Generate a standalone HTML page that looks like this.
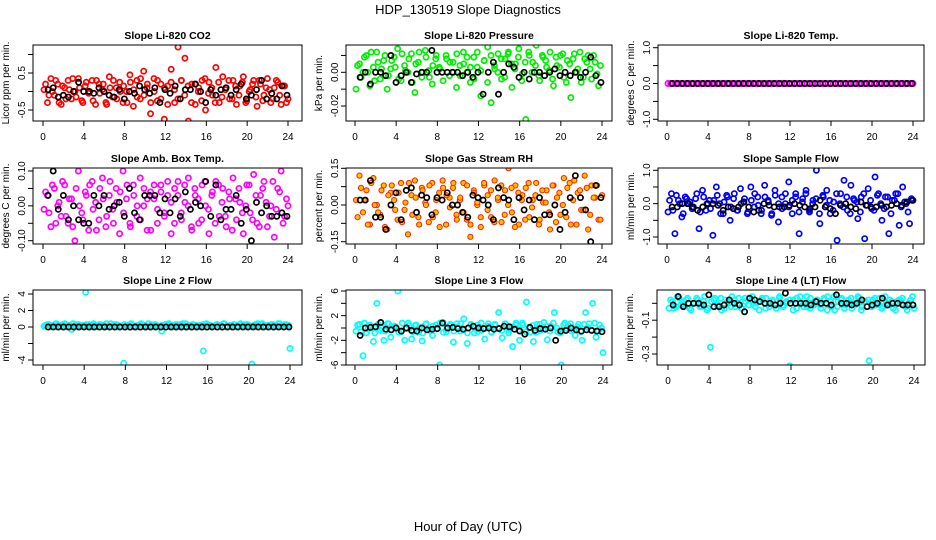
<!DOCTYPE html>
<html><head><meta charset="utf-8">
<style>
body{margin:0;background:#fff;}
svg{display:block;font-family:"Liberation Sans",Arial,sans-serif;}
</style></head>
<body>
<svg id="chart" width="936" height="540" viewBox="0 0 936 540" xmlns="http://www.w3.org/2000/svg">
<rect width="936" height="540" fill="#fff"/>
<text x="468" y="14" font-size="13" text-anchor="middle">HDP_130519  Slope Diagnostics</text>
<text x="468" y="531" font-size="13" text-anchor="middle">Hour of Day (UTC)</text>
</svg>
<script>
const xTicks=[0,4,8,12,16,20,24];
const xTickLabels=['0','4','8','12','16','20','24'];

const co2Ticks=[-0.5,0,0.5,1];
const co2TickLabels=['-0.5','','0.5',''];
const co2Color=[0.05,-0.3,0.35,-0.1,0.2,-0.35,0.1,0.3,-0.2,0.0,0.35,-0.25,0.15,-0.05,0.3,-0.35,0.2,0.05,-0.3,0.4,-0.15,0.1,0.25,-0.3,0.0,0.45,-0.4,0.3,-0.2,0.55,0.1,-0.6,0.35,-0.25,0.2,-0.75,0.15,0.6,-0.3,1.2,0.3,0.9,-0.8,0.2,-0.35,0.1,0.3,-0.5,0.25,-0.1,0.65,-0.3,0.4,0.1,-0.2,0.3,-0.35,0.15,0.4,-0.25,0.05,0.3,-0.4,0.2,-0.1,0.35,-0.3,0.1,0.25,-0.35,0.15,-0.2];
const co2Color2=[0.2,-0.1,0.0,0.3,-0.3,0.15,-0.2,0.05,0.35,-0.15,0.1,-0.3,0.25,0.0,-0.25,0.3,-0.05,0.2,-0.35,0.1,0.3,-0.2,0.0,0.15,-0.3,0.25,0.05,-0.15,0.35,-0.1,0.2,-0.3,0.0,0.3,-0.2,0.1,-0.35,0.25,0.05,-0.2,0.3,-0.1,0.15,-0.3,0.2,0.0,-0.25,0.35,-0.05,0.1,-0.3,0.25,-0.15,0.05,0.3,-0.2,0.15,-0.1,0.25,-0.3,0.0,0.2,-0.15,0.3,-0.25,0.1,0.05,-0.2,0.3,-0.1,0.15,-0.3];
const co2Black=[0.05,0.1,-0.15,-0.1,-0.15,0.0,0.25,0.0,0.0,-0.05,0.1,0.0,-0.1,-0.15,0.05,-0.2,0.0,-0.05,0.15,0.05,-0.05,0.1,-0.3,0.05,-0.05,0.15,-0.2,0.05,0.05,0.2,0.0,-0.3,0.05,-0.1,0.05,0.1,-0.1,0.05,0.2,-0.2,-0.1,0.05,0.3,-0.2,-0.05,-0.2,0.15,-0.1];

const presTicks=[0.01,0,-0.01,-0.02];
const presTickLabels=['','0.00','','-0.02'];
const presColor=[-0.01,0.005,0.0,0.01,-0.008,0.003,0.012,-0.004,0.007,-0.01,0.002,0.009,0.014,-0.005,0.004,0.0,0.011,-0.012,0.006,-0.003,0.013,0.001,-0.007,0.008,0.003,-0.033,0.01,-0.002,0.006,-0.009,0.004,0.012,0.0,-0.006,0.009,0.003,-0.014,0.007,0.015,-0.018,0.002,0.011,-0.004,0.008,0.012,-0.009,0.005,0.014,-0.001,-0.028,0.01,0.006,0.016,-0.005,0.009,0.003,0.012,-0.008,0.004,0.01,-0.003,0.007,-0.015,0.011,0.002,-0.006,0.008,0.01,-0.004,0.006,-0.008,-0.031];
const presColor2=[0.004,-0.003,0.009,0.0,0.012,-0.005,0.006,0.002,0.01,-0.002,0.007,0.003,-0.004,0.011,0.001,0.008,-0.006,0.005,0.012,0.0,0.009,-0.003,0.004,0.01,0.002,-0.005,0.008,0.006,0.0,0.011,-0.002,0.005,0.009,0.003,-0.004,0.012,0.001,0.007,-0.006,0.01,0.004,0.0,0.008,-0.003,0.011,0.005,0.002,0.009,-0.005,0.006,0.012,0.0,0.004,-0.002,0.01,0.007,0.001,-0.004,0.009,0.003,0.011,-0.006,0.005,0.008,0.0,0.012,-0.003,0.006,0.002,0.01,-0.001,0.004];
const presBlack=[-0.003,0.0,-0.007,0.0,0.0,-0.002,0.01,-0.006,-0.002,0.0,-0.006,-0.001,0.0,0.0,0.013,0.0,0.0,0.0,0.0,0.0,-0.002,0.0,-0.003,0.0,-0.013,0.0,0.006,-0.013,0.0,0.005,0.003,-0.003,0.0,-0.004,0.0,0.0,-0.002,0.0,0.002,-0.002,0.0,-0.002,0.0,-0.003,0.0,0.009,-0.002,-0.006];

const tempTicks=[1,0.5,0,-0.5,-1];
const tempTickLabels=['1.0','','0.0','','-1.0'];
const tempColor=[0,0,0,0,0,0,0,0,0,0,0,0,0,0,0,0,0,0,0,0,0,0,0,0,0,0,0,0,0,0,0,0,0,0,0,0,0,0,0,0,0,0,0,0,0,0,0,0,0,0,0,0,0,0,0,0,0,0,0,0,0,0,0,0,0,0,0,0,0,0,0,0,0,0,0,0,0,0,0,0,0,0,0,0,0,0,0,0,0,0,0,0,0,0,0,0];
const tempColor2=[];
const tempBlack=[0,0,0,0,0,0,0,0,0,0,0,0,0,0,0,0,0,0,0,0,0,0,0,0,0,0,0,0,0,0,0,0,0,0,0,0,0,0,0,0,0,0,0,0,0,0,0,0];

const ambTicks=[0.1,0.05,0,-0.05,-0.1];
const ambTickLabels=['0.10','','0.00','','-0.10'];
const ambColor=[-0.01,0.03,-0.06,0.05,0.0,-0.03,0.06,-0.05,0.02,-0.1,0.1,-0.02,0.04,-0.07,0.07,0.01,-0.04,0.08,-0.06,0.03,-0.01,0.05,-0.08,0.1,0.02,-0.05,0.06,-0.03,0.08,0.0,-0.07,0.04,0.02,-0.05,0.06,-0.02,0.03,-0.08,0.05,0.07,-0.04,0.01,0.08,-0.07,0.03,-0.05,0.06,0.0,-0.08,0.04,0.07,-0.03,0.05,-0.06,0.02,0.08,-0.04,0.01,-0.08,0.06,-0.02,0.09,-0.05,0.03,0.07,-0.06,0.0,-0.09,0.05,0.1,-0.03,0.0];
const ambColor2=[0.04,-0.02,0.06,-0.05,0.01,0.07,-0.03,0.02,-0.06,0.05,0.0,-0.04,0.03,0.06,-0.01,-0.07,0.05,0.02,-0.03,0.07,-0.05,0.01,0.04,-0.02,0.06,-0.06,0.03,0.0,-0.04,0.05,0.02,-0.07,0.06,-0.01,0.04,-0.03,0.07,0.01,-0.05,0.03,-0.02,0.06,0.0,-0.06,0.05,0.02,-0.04,0.07,-0.01,0.03,-0.05,0.06,0.01,-0.03,0.04,-0.07,0.02,0.05,-0.02,0.0,0.06,-0.04,0.03,-0.06,0.05,0.01,-0.03,0.07,-0.01,0.04,-0.05,0.02];
const ambBlack=[0.03,0.1,-0.01,0.03,-0.04,0.0,-0.04,-0.05,-0.05,0.03,0.0,0.03,-0.01,0.0,0.01,-0.03,0.05,-0.02,-0.04,0.03,0.03,0.03,-0.02,0.02,-0.02,0.02,-0.03,0.04,-0.01,0.01,0.0,0.07,-0.03,0.06,-0.04,-0.01,-0.01,0.03,-0.05,-0.01,-0.1,0.01,-0.02,0.0,-0.03,-0.03,-0.02,-0.03];

const rhTicks=[0.15,0.075,0,-0.075,-0.15];
const rhTickLabels=['0.15','','0.00','','-0.15'];
const rhColor=[0.02,0.12,-0.03,0.06,-0.08,0.11,0.0,-0.04,0.08,-0.1,0.05,0.02,-0.06,0.09,-0.02,-0.12,0.04,0.1,-0.05,0.07,0.01,-0.07,0.09,-0.03,0.05,0.1,-0.08,0.03,0.07,-0.04,0.02,0.09,-0.06,-0.13,0.06,0.0,-0.09,0.08,0.04,-0.05,0.1,0.02,-0.07,0.06,0.15,-0.03,0.08,-0.08,0.04,0.07,-0.05,0.02,0.09,-0.06,0.01,0.06,-0.1,0.08,0.03,-0.04,0.11,0.07,-0.08,0.1,0.05,-0.02,0.12,-0.1,0.08,0.03,-0.06,0.04];
const rhColor2=[-0.05,0.07,0.02,-0.08,0.09,0.0,-0.03,0.06,-0.09,0.04,0.08,-0.02,0.05,-0.07,0.01,0.09,-0.04,0.03,-0.08,0.06,0.0,0.08,-0.05,0.02,-0.09,0.07,0.04,-0.01,0.09,-0.06,0.03,-0.03,0.08,-0.08,0.05,0.01,-0.05,0.09,-0.02,0.06,-0.07,0.03,0.08,-0.04,0.0,0.07,-0.09,0.05,0.02,-0.06,0.09,-0.01,0.04,-0.08,0.06,0.01,-0.03,0.08,-0.07,0.05,0.0,-0.05,0.09,0.02,-0.08,0.06,-0.02,0.07,-0.04,0.03,0.08,-0.06];
const rhBlack=[0.02,0.02,0.1,-0.05,-0.05,-0.1,0.0,0.05,-0.06,0.06,0.07,-0.03,0.04,0.03,-0.04,0.03,0.02,0.05,0.0,0.0,-0.03,-0.05,0.04,0.03,0.02,0.0,-0.06,0.07,0.03,0.02,-0.06,0.03,-0.02,0.02,-0.06,0.03,-0.04,-0.04,0.0,-0.1,-0.03,0.03,0.12,0.03,-0.02,-0.15,0.08,0.03];

const flowTicks=[1,0.5,0,-0.5,-1];
const flowTickLabels=['1.0','','0.0','','-1.0'];
const flowColor=[-0.25,0.3,-0.9,0.1,-0.4,0.2,0.0,-0.15,0.15,-0.75,0.4,-0.2,0.1,-0.95,0.5,0.0,-0.3,0.25,-0.5,0.15,-0.2,0.45,0.05,-0.3,0.5,-0.1,0.2,-0.3,0.55,0.1,-0.35,0.4,-0.55,0.2,0.0,0.65,-0.3,0.3,-0.9,0.15,0.4,-0.25,0.1,1.0,-0.6,0.2,0.4,-0.3,0.05,-1.1,0.3,0.7,-0.2,0.55,0.1,-0.45,0.2,-1.05,0.45,-0.15,0.8,0.3,-0.5,0.2,-0.9,0.1,0.3,-0.65,0.5,0.0,-0.6,0.1];
const flowColor2=[0.1,-0.2,0.25,0.0,-0.3,0.15,0.05,-0.1,0.3,-0.25,0.2,0.0,-0.15,0.1,0.25,-0.3,0.05,0.2,-0.1,0.3,-0.2,0.0,0.15,-0.25,0.1,0.3,-0.05,-0.2,0.2,0.05,-0.3,0.25,0.0,-0.15,0.3,-0.1,0.1,0.2,-0.25,0.05,0.3,-0.2,0.0,0.15,-0.3,0.25,-0.05,0.1,-0.2,0.3,0.0,-0.1,0.2,-0.3,0.15,0.05,-0.25,0.3,-0.05,0.1,-0.2,0.25,0.0,-0.15,0.2,-0.3,0.1,0.3,-0.1,0.05,-0.25,0.15];
const flowBlack=[-0.1,-0.1,0.0,0.0,-0.1,-0.2,-0.1,0.0,0.0,-0.05,-0.2,-0.1,-0.15,-0.1,0.05,-0.1,-0.25,-0.2,0.0,-0.05,-0.1,-0.1,-0.1,-0.05,0.0,-0.05,-0.1,-0.15,-0.1,0.1,-0.1,-0.15,-0.3,-0.05,0.0,-0.1,-0.15,0.05,-0.05,-0.1,-0.1,-0.05,-0.1,-0.05,0.0,-0.05,0.05,0.1];

const l2Ticks=[4,2,0,-2,-4];
const l2TickLabels=['4','2','0','','-4'];
const l2Color=[0.1,0.3,0.2,0.1,0.3,0.2,0.4,0.1,-0.3,0.2,0.3,0.1,4.2,0.3,0.2,0.1,0.3,0.2,0.4,0.1,0.2,0.3,0.1,-4.4,0.2,0.3,0.1,0.2,0.4,0.2,0.1,0.3,0.2,0.1,-0.5,0.3,0.2,0.1,0.3,0.2,0.4,0.1,0.2,0.3,0.1,0.2,-2.9,0.3,0.2,0.1,0.3,0.2,0.4,0.1,0.2,0.3,0.1,0.2,0.3,0.2,-4.5,0.3,0.2,0.4,0.1,0.2,0.3,0.1,0.4,0.2,0.3,-2.6];
const l2Color2=[0.2,0.3,0.1,0.4,0.2,0.3,0.1,0.2,0.4,0.3,0.1,0.2,0.3,0.2,0.4,0.1,0.3,0.2,0.1,0.4,0.3,0.2,0.1,0.3,0.2,0.4,0.1,0.2,0.3,0.1,0.4,0.2,0.3,0.1,0.2,0.3,0.4,0.2,0.1,0.3,0.2,0.4,0.1,0.3,0.2,0.1,0.3,0.4,0.2,0.1,0.3,0.2,0.4,0.1,0.2,0.3,0.1,0.4,0.2,0.3,0.1,0.2,0.4,0.3,0.1,0.2,0.3,0.2,0.4,0.1,0.3,0.2];
const l2Black=[0,0,0,0,0,0,0,0,0,0,0,0,0,0,0,0,0,0,0,0,0,0,0,0,0,0,0,0,0,0,0,0,0,0,0,0,0,0,0,0,0,0,0,0,0,0,0,0];

const l3Ticks=[6,4,2,0,-2,-4,-6];
const l3TickLabels=['6','','2','','-2','','-6'];
const l3Color=[-0.5,0.6,-4.5,-0.8,0.5,-2.2,4.0,-0.4,-2.0,0.7,-1.5,0.3,6.0,-0.6,-2.0,0.8,-1.8,0.4,-0.7,-2.1,0.6,-0.3,-1.2,0.5,-6.0,0.9,-0.6,0.4,-2.3,0.7,-0.5,1.5,-2.5,0.6,-0.8,0.5,-0.4,-1.8,0.7,-0.6,0.4,2.5,-1.6,0.6,-0.3,-3.0,0.8,-2.0,0.5,4.2,-0.7,-2.2,0.6,-0.4,0.9,-1.9,0.3,2.5,-0.6,-6.0,0.8,0.4,-0.5,-1.2,0.6,-2.0,2.5,0.7,4.0,-1.5,0.5,-4.0];
const l3Color2=[0.5,-0.6,0.8,-0.2,0.3,-0.8,0.6,0.0,-0.5,0.7,-0.3,0.2,-0.7,0.8,-0.1,0.4,-0.6,0.5,0.1,-0.8,0.7,-0.4,0.3,-0.2,0.8,-0.7,0.0,0.6,-0.5,0.2,0.7,-0.3,-0.8,0.5,0.1,-0.6,0.8,-0.1,0.3,-0.7,0.6,0.0,-0.4,0.7,-0.8,0.2,0.5,-0.3,0.8,-0.6,0.1,0.4,-0.7,0.6,-0.2,0.3,-0.5,0.8,0.0,-0.8,0.5,-0.1,0.7,-0.4,0.2,-0.6,0.6,0.1,-0.3,0.8,-0.5,0.0];
const l3Black=[-1.2,0.0,0.1,0.2,0.9,-0.2,-0.3,0.0,-0.5,0.0,-0.4,-0.5,0.0,-0.3,-0.2,-0.1,0.8,0.0,0.1,-0.1,-0.2,0.0,0.3,0.0,-0.1,0.0,-0.2,-0.1,0.3,0.2,-0.2,-0.5,-1.0,0.1,-0.4,-0.1,-0.2,0.0,-2.0,-0.5,-0.4,0.0,-0.3,-0.5,-0.3,-0.4,-0.5,-0.6];

const l4Ticks=[0,-0.1,-0.2,-0.3];
const l4TickLabels=['','-0.1','','-0.3'];
const l4Color=[-0.03,0.01,-0.02,0.03,-0.01,0.02,-0.03,0.0,0.03,-0.02,0.01,-0.04,-0.26,0.02,-0.01,0.03,-0.03,0.01,-0.02,0.02,0.0,-0.03,0.03,-0.01,0.02,-0.02,0.01,0.03,-0.03,0.0,0.02,-0.01,0.03,-0.02,0.01,-0.37,0.02,-0.03,0.04,0.0,-0.02,0.03,-0.01,0.01,-0.03,0.02,0.04,-0.02,-0.04,0.01,0.03,-0.01,0.02,-0.03,0.0,0.03,-0.02,0.01,-0.34,0.02,-0.01,0.03,-0.02,0.0,0.02,-0.03,0.01,0.02,-0.01,-0.04,0.02,-0.03];
const l4Color2=[0.02,-0.03,0.04,-0.01,0.01,0.03,-0.04,0.0,0.02,-0.02,0.04,-0.03,0.01,0.03,-0.01,-0.04,0.02,0.0,0.04,-0.02,0.03,-0.03,0.01,-0.01,0.04,0.0,-0.04,0.02,0.03,-0.02,0.01,-0.03,0.04,-0.01,0.0,0.02,-0.04,0.03,0.01,-0.02,0.04,-0.03,0.0,0.02,-0.01,0.03,-0.04,0.01,0.04,-0.02,0.02,-0.03,0.0,0.03,-0.01,0.04,-0.04,0.01,0.02,-0.02,0.03,0.0,-0.03,0.04,-0.01,0.01,-0.04,0.02,0.03,-0.02,0.0,0.04];
const l4Black=[-0.01,0.04,-0.02,0.0,0.0,0.0,-0.01,0.05,-0.02,-0.02,-0.01,0.02,0.0,-0.01,-0.05,0.03,0.02,0.01,0.0,0.0,-0.01,0.0,0.06,0.0,0.0,0.0,0.0,-0.01,0.01,0.0,0.0,-0.01,0.05,0.0,0.0,-0.01,0.0,0.02,-0.02,-0.01,0.0,0.03,-0.01,0.0,0.0,-0.01,-0.01,-0.01];

const panels=[
 {id:'co2',title:'Slope Li-820 CO2',ylab:'Licor ppm per min.',box:[33,45,302,121],xp:[43,288],yv:[0.5,-0.5],yp:[73,110],ticks:co2Ticks,tl:co2TickLabels,col:'#ff0000',fill:'none',c:co2Color,c2:co2Color2,b:co2Black},
 {id:'pressure',title:'Slope Li-820 Pressure',ylab:'kPa per min.',box:[346,45,612,121],xp:[355,602],yv:[0,-0.02],yp:[72.3,106],ticks:presTicks,tl:presTickLabels,col:'#00ee00',fill:'none',c:presColor,c2:presColor2,b:presBlack},
 {id:'temp',title:'Slope Li-820 Temp.',ylab:'degrees C per min.',box:[658,45,924,121],xp:[667,913],yv:[1,-1],yp:[47.7,119.3],ticks:tempTicks,tl:tempTickLabels,col:'#ff00ff',fill:'none',c:tempColor,c2:tempColor2,b:tempBlack},
 {id:'amb-temp',title:'Slope Amb. Box Temp.',ylab:'degrees C per min.',box:[33,168,302,244],xp:[43,288],yv:[0.1,-0.1],yp:[171,240.7],ticks:ambTicks,tl:ambTickLabels,col:'#ff00ff',fill:'none',c:ambColor,c2:ambColor2,b:ambBlack},
 {id:'rh',title:'Slope Gas Stream RH',ylab:'percent per min.',box:[346,168,612,244],xp:[355,602],yv:[0.15,-0.15],yp:[168.3,241.7],ticks:rhTicks,tl:rhTickLabels,col:'#ff2000',fill:'#ffc000',c:rhColor,c2:rhColor2,b:rhBlack},
 {id:'sample-flow',title:'Slope Sample Flow',ylab:'ml/min per min.',box:[658,168,924,244],xp:[667,913],yv:[1,-1],yp:[170.3,237],ticks:flowTicks,tl:flowTickLabels,col:'#0000ff',fill:'none',c:flowColor,c2:flowColor2,b:flowBlack},
 {id:'line2-flow',title:'Slope Line 2 Flow',ylab:'ml/min per min.',box:[33,290,302,365],xp:[43,290],yv:[4,-4],yp:[294,360],ticks:l2Ticks,tl:l2TickLabels,col:'#00ffff',fill:'none',c:l2Color,c2:l2Color2,b:l2Black},
 {id:'line3-flow',title:'Slope Line 3 Flow',ylab:'ml/min per min.',box:[346,290,612,365],xp:[355,603],yv:[6,-6],yp:[291,365],ticks:l3Ticks,tl:l3TickLabels,col:'#00ffff',fill:'none',c:l3Color,c2:l3Color2,b:l3Black},
 {id:'line4-flow',title:'Slope Line 4 (LT) Flow',ylab:'ml/min per min.',box:[657,290,925,365],xp:[668,914],yv:[0,-0.3],yp:[303.3,354],ticks:l4Ticks,tl:l4TickLabels,col:'#00ffff',fill:'none',c:l4Color,c2:l4Color2,b:l4Black}
];

const NS='http://www.w3.org/2000/svg';
const svg=document.getElementById('chart');
function mk(tag,parent){const e=document.createElementNS(NS,tag);parent.appendChild(e);return e;}

panels.forEach(p=>{
  const [bx0,by0,bx1,by1]=p.box;
  const xS=v=>p.xp[0]+(v-0)*(p.xp[1]-p.xp[0])/24;
  const yS=v=>p.yp[0]+(v-p.yv[0])*(p.yp[1]-p.yp[0])/(p.yv[1]-p.yv[0]);
  const g=mk('g',svg);
  
  
  const clipId='clip-'+p.id;
  const cp=mk('clipPath',g);cp.setAttribute('id',clipId);
  const cr=mk('rect',cp);cr.setAttribute('x',bx0);cr.setAttribute('y',by0);cr.setAttribute('width',bx1-bx0);cr.setAttribute('height',by1-by0);

  const t=mk('text',g);
  
  
  t.setAttribute('x',(bx0+bx1)/2);t.setAttribute('y',by0-6);
  t.setAttribute('font-size','10.5');t.setAttribute('font-weight','bold');t.setAttribute('text-anchor','middle');
  t.textContent=p.title;

  const yl=mk('text',g);
  
  
  const ylx=bx0-24, yly=(by0+by1)/2;
  yl.setAttribute('transform','translate('+ylx+','+yly+') rotate(-90)');
  yl.setAttribute('font-size','10');yl.setAttribute('text-anchor','middle');
  yl.textContent=p.ylab;

  const pts=mk('g',g);
  pts.setAttribute('clip-path','url(#'+clipId+')');
  
  
  const n=p.c.length;
  p.c.forEach((v,i)=>{
    const c=mk('circle',pts);
    
    
    c.setAttribute('cx',xS(0.1+i*23.9/(n-1)));c.setAttribute('cy',yS(v));
    c.setAttribute('r','2.6');c.setAttribute('fill',p.fill);
    c.setAttribute('stroke',p.col);c.setAttribute('stroke-width',p.fill==='none'?'1.7':'1');
  });
  const n2=p.c2.length;
  p.c2.forEach((v,i)=>{
    const c=mk('circle',pts);
    
    
    c.setAttribute('cx',xS(0.25+i*23.6/(Math.max(n2,2)-1)));c.setAttribute('cy',yS(v));
    c.setAttribute('r','2.6');c.setAttribute('fill',p.fill);
    c.setAttribute('stroke',p.col);c.setAttribute('stroke-width',p.fill==='none'?'1.7':'1');
  });
  const m=p.b.length;
  p.b.forEach((v,i)=>{
    const c=mk('circle',pts);
    
    
    c.setAttribute('cx',xS(0.5+i*23.4/(m-1)));c.setAttribute('cy',yS(v));
    c.setAttribute('r','2.6');c.setAttribute('fill','none');
    c.setAttribute('stroke','#000');c.setAttribute('stroke-width','1.7');
  });

  const box=mk('rect',g);
  
  
  box.setAttribute('x',bx0);box.setAttribute('y',by0);box.setAttribute('width',bx1-bx0);box.setAttribute('height',by1-by0);
  box.setAttribute('fill','none');box.setAttribute('stroke','#000');box.setAttribute('stroke-width','1');

  xTicks.forEach((v,i)=>{
    const x=xS(v);
    const l=mk('line',g);
    
    
    l.setAttribute('x1',x);l.setAttribute('x2',x);l.setAttribute('y1',by1);l.setAttribute('y2',by1+5);
    l.setAttribute('stroke','#000');
    const tx=mk('text',g);
    
    
    tx.setAttribute('x',x);tx.setAttribute('y',by1+19);
    tx.setAttribute('font-size','10');tx.setAttribute('text-anchor','middle');
    tx.textContent=xTickLabels[i];
  });
  p.ticks.forEach((v,i)=>{
    const y=yS(v);
    const l=mk('line',g);
    
    
    l.setAttribute('x1',bx0-5);l.setAttribute('x2',bx0);l.setAttribute('y1',y);l.setAttribute('y2',y);
    l.setAttribute('stroke','#000');
    if(p.tl[i]){
      const tx=mk('text',g);
      
      
      tx.setAttribute('transform','translate('+(bx0-8)+','+y+') rotate(-90)');
      tx.setAttribute('font-size','10');tx.setAttribute('text-anchor','middle');
      tx.textContent=p.tl[i];
    }
  });
});
</script>
</body></html>
